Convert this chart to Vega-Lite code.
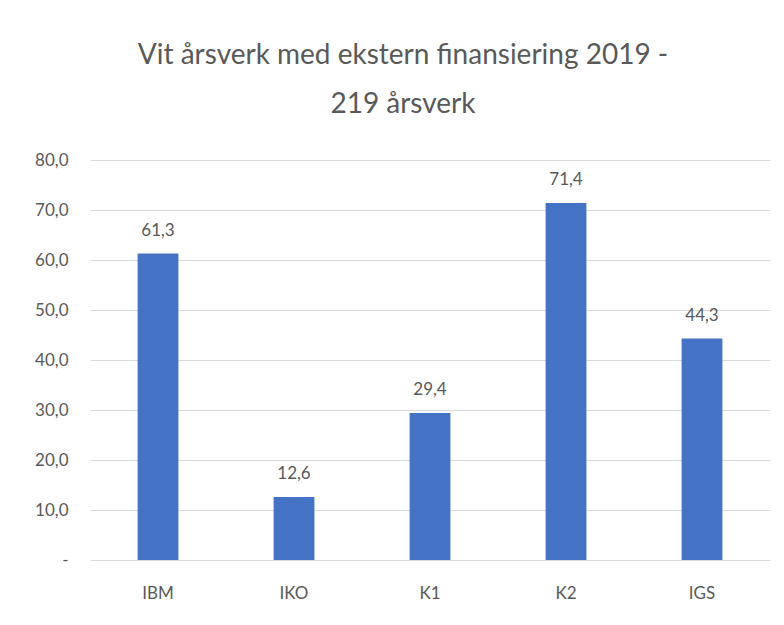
{
  "$schema": "https://vega.github.io/schema/vega-lite/v6.json",
  "autosize": "none",
  "width": 680,
  "height": 400,
  "padding": {"left": 90, "top": 160, "right": 14, "bottom": 65},
  "background": "white",
  "title": {
    "text": ["Vit årsverk med ekstern finansiering 2019 -", "219 årsverk"],
    "font": "Lato",
    "fontSize": 28,
    "fontWeight": "normal",
    "color": "#595959",
    "anchor": "middle",
    "dx": -27,
    "lineHeight": 49,
    "offset": 32
  },
  "data": {
    "values": [
      {"enhet": "IBM", "verdi": 61.3},
      {"enhet": "IKO", "verdi": 12.6},
      {"enhet": "K1", "verdi": 29.4},
      {"enhet": "K2", "verdi": 71.4},
      {"enhet": "IGS", "verdi": 44.3}
    ]
  },
  "config": {
    "locale": {"number": {"decimal": ",", "thousands": "\u00a0", "grouping": [3], "currency": ["", " kr"]}},
    "view": {"stroke": null},
    "axis": {"labelFont": "Lato", "labelFontSize": 17, "labelColor": "#595959"}
  },
  "encoding": {
    "x": {
      "field": "enhet", "type": "nominal", "sort": null,
      "scale": {"paddingInner": 0.7, "paddingOuter": 0.35},
      "axis": {"title": null, "labelAngle": 0, "domain": false, "ticks": false, "labelPadding": 25}
    },
    "y": {
      "field": "verdi", "type": "quantitative",
      "scale": {"domain": [0, 80]},
      "axis": {
        "title": null, "values": [0, 10, 20, 30, 40, 50, 60, 70, 80],
        "labelExpr": "datum.value == 0 ? '-' : format(datum.value, '.1f')",
        "domain": false, "ticks": false, "labelPadding": 22,
        "gridColor": "#d9d9d9", "gridWidth": 1.2,
        "encode": {"labels": {"update": {"dx": {"signal": "datum.value == 0 ? -12 : 0"}}}}
      }
    }
  },
  "layer": [
    {"mark": {"type": "bar", "color": "#4472C4"}},
    {
      "mark": {"type": "text", "baseline": "alphabetic", "dy": -18, "font": "Lato", "fontSize": 17, "color": "#595959"},
      "encoding": {"text": {"field": "verdi", "type": "quantitative", "format": ".1f"}}
    }
  ]
}
